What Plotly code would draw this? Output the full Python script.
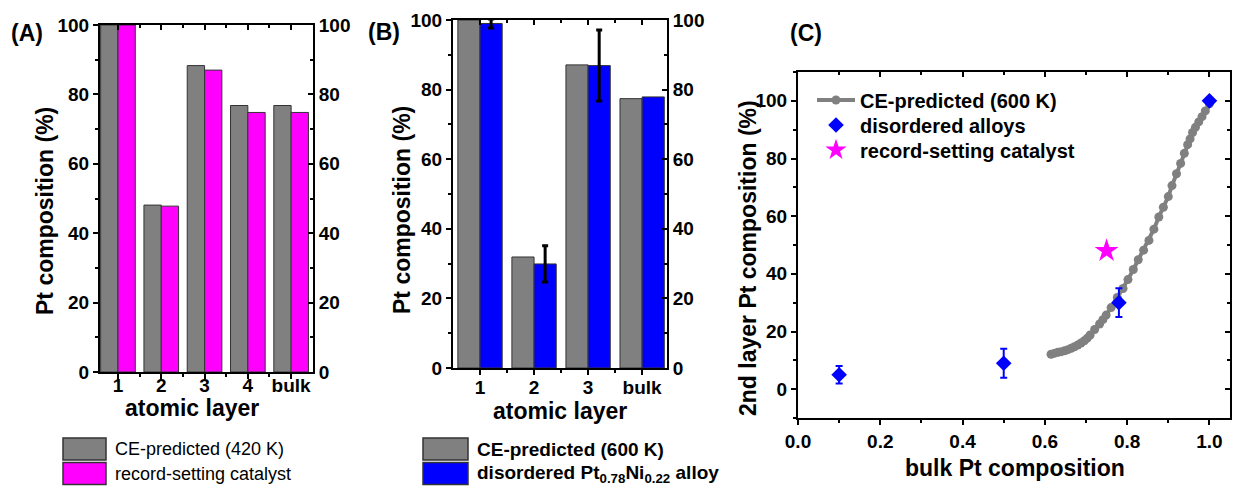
import plotly.graph_objects as go

W, H = 1236, 489

# ---------------- data ----------------
# (A) Pt composition per atomic layer
layers_a = ["1", "2", "3", "4", "bulk"]
ce420 = [100, 48.1, 88.3, 76.8, 76.8]
record = [100, 47.8, 87.0, 74.8, 74.8]

# (B) Pt composition per atomic layer (bulk has no error bar)
layers_b = ["1", "2", "3", "bulk"]
ce600 = [100, 31.9, 87.1, 77.4]
alloy = [99.0, 29.9, 86.9, 77.9]
alloy_err = [1.3, 5.2, 10.2]

# (C) 2nd-layer vs bulk Pt composition
ce_bulk = [0.615, 0.624, 0.632, 0.640, 0.648, 0.656, 0.664, 0.672, 0.680, 0.688,
           0.696, 0.703, 0.710, 0.721, 0.733, 0.741, 0.749, 0.761, 0.776, 0.790,
           0.802, 0.815, 0.827, 0.840, 0.853, 0.865, 0.877, 0.888, 0.900, 0.909,
           0.920, 0.930, 0.939, 0.947, 0.953, 0.959, 0.966, 0.974, 0.982, 0.990,
           1.000]
ce_second = [12.1, 12.5, 12.8, 13.0, 13.3, 13.7, 14.2, 14.7, 15.3, 16.0,
             16.8, 17.7, 18.8, 20.7, 22.6, 24.1, 25.7, 28.3, 31.8, 34.9,
             38.0, 41.5, 44.9, 48.2, 51.6, 55.5, 59.7, 63.1, 66.8, 70.6,
             74.7, 78.3, 81.8, 84.8, 86.8, 89.0, 90.8, 92.7, 94.5, 96.5,
             99.0]
dis_bulk = [0.10, 0.50, 0.78, 1.00]
dis_second = [5, 9, 30, 100]
dis_err = [3, 5, 5]          # the pure-Pt point carries no error bar
rec_bulk = [0.75]
rec_second = [48]

# ---------------- style ----------------
FONT = "Liberation Sans, Arial, sans-serif"
GRAY = "#808080"
MAGENTA = "#FF00FF"
BLUE = "#0000FF"
EDGE = "#333333"
TICKFONT = dict(family=FONT, size=19, color="black", weight="bold")
TITLEFONT = dict(family=FONT, size=23, color="black", weight="bold")
LEGFONT = dict(family=FONT, size=20, color="black", weight="bold")


def px(x):
    return x / W


def py(y):
    return 1 - y / H


def axis_common(**kw):
    d = dict(showline=True, linewidth=2, linecolor="black", showgrid=False,
             zeroline=False, ticklen=5, tickwidth=2, tickcolor="black",
             tickfont=TICKFONT, fixedrange=True, automargin=False)
    d.update(kw)
    return d


def minor(vals=None, dtick=None, inside=False):
    m = dict(ticks="inside" if inside else "outside", ticklen=3, tickwidth=2,
             tickcolor="black", showgrid=False)
    if vals is not None:
        m["tickvals"] = vals
    if dtick is not None:
        m["dtick"] = dtick
        m["tick0"] = 0
    return m


pos_a = list(range(1, len(layers_a) + 1))
pos_b = list(range(1, len(layers_b) + 1))
half_a = [p + 0.5 for p in pos_a[:-1]]
half_b = [p + 0.5 for p in pos_b[:-1]]

fig = go.Figure()

# ---- (A) bars: gray on bottom/left axes, magenta on top/right axes ----
fig.add_trace(go.Bar(x=pos_a, y=ce420, width=0.4, offset=-0.4,
                     marker=dict(color=GRAY, line=dict(color=EDGE, width=1)),
                     showlegend=False, xaxis="x", yaxis="y"))
fig.add_trace(go.Bar(x=pos_a, y=record, width=0.4, offset=0,
                     marker=dict(color=MAGENTA, line=dict(color=EDGE, width=1)),
                     showlegend=False, xaxis="x2", yaxis="y2"))

# ---- (B) bars ----
fig.add_trace(go.Bar(x=pos_b, y=ce600, width=0.41, offset=-0.41,
                     marker=dict(color=GRAY, line=dict(color=EDGE, width=1)),
                     showlegend=False, xaxis="x3", yaxis="y3"))
fig.add_trace(go.Bar(x=pos_b, y=alloy, width=0.41, offset=0,
                     marker=dict(color=BLUE, line=dict(color=EDGE, width=1)),
                     error_y=dict(type="data", array=alloy_err, visible=True,
                                  color="black", thickness=3, width=3),
                     showlegend=False, xaxis="x4", yaxis="y4"))

# ---- (C) scatter ----
fig.add_trace(go.Scatter(x=ce_bulk, y=ce_second, mode="lines+markers",
                         name="CE-predicted (600 K)",
                         line=dict(color=GRAY, width=4),
                         marker=dict(color=GRAY, size=9),
                         xaxis="x5", yaxis="y5", legend="legend"))
fig.add_trace(go.Scatter(x=dis_bulk, y=dis_second, mode="markers",
                         name="disordered alloys",
                         marker=dict(color=BLUE, size=12, symbol="diamond"),
                         error_y=dict(type="data", array=dis_err, visible=True,
                                      color=BLUE, thickness=2, width=3.5),
                         xaxis="x6", yaxis="y6", legend="legend2"))
fig.add_trace(go.Scatter(x=rec_bulk, y=rec_second, mode="markers",
                         name="record-setting catalyst",
                         marker=dict(color=MAGENTA, size=18, symbol="star"),
                         xaxis="x6", yaxis="y6", legend="legend3"))

# ---------------- axes ----------------
rng_a = [0.585, 5.505]
rng_b = [0.5, 4.46]
layout_axes = dict(
    # (A)
    xaxis=axis_common(domain=[px(100), px(313)], anchor="y", range=rng_a,
                      tickmode="array", tickvals=pos_a, ticktext=layers_a,
                      ticks="outside", ticklabelstandoff=-10,
                      minor=minor(vals=half_a)),
    xaxis2=axis_common(overlaying="x", side="top", anchor="y2", range=rng_a,
                       tickmode="array", tickvals=pos_a, ticks="inside",
                       showticklabels=False, minor=minor(vals=half_a, inside=True)),
    yaxis=axis_common(domain=[py(372), py(25)], anchor="x", range=[0, 100],
                      dtick=20, ticks="outside", minor=minor(dtick=10)),
    yaxis2=axis_common(overlaying="y", side="right", anchor="x2", range=[0, 100],
                       dtick=20, ticks="inside", minor=minor(dtick=10, inside=True)),
    # (B)
    xaxis3=axis_common(domain=[px(453), px(667)], anchor="y3", range=rng_b,
                       tickmode="array", tickvals=pos_b, ticktext=layers_b,
                       ticks="outside", ticklabelstandoff=-4,
                       minor=minor(vals=half_b)),
    xaxis4=axis_common(overlaying="x3", side="top", anchor="y4", range=rng_b,
                       tickmode="array", tickvals=pos_b, ticks="inside",
                       showticklabels=False, minor=minor(vals=half_b, inside=True)),
    yaxis3=axis_common(domain=[py(368), py(20)], anchor="x3", range=[0, 100],
                       dtick=20, ticks="outside", minor=minor(dtick=10)),
    yaxis4=axis_common(overlaying="y3", side="right", anchor="x4", range=[0, 100],
                       dtick=20, ticks="inside", minor=minor(dtick=10, inside=True)),
    # (C)
    xaxis5=axis_common(domain=[px(798), px(1230)], anchor="y5", range=[0, 1.05],
                       dtick=0.2, tick0=0, tickformat=".1f", ticks="outside",
                       minor=minor(dtick=0.1)),
    xaxis6=axis_common(overlaying="x5", side="top", anchor="y6", range=[0, 1.05],
                       dtick=0.2, tick0=0, ticks="inside", showticklabels=False,
                       minor=minor(dtick=0.1, inside=True)),
    yaxis5=axis_common(domain=[py(418), py(72)], anchor="x5", range=[-10, 110],
                       dtick=20, tick0=0, ticks="outside", minor=minor(dtick=10)),
    yaxis6=axis_common(overlaying="y5", side="right", anchor="x6", range=[-10, 110],
                       dtick=20, tick0=0, ticks="inside", showticklabels=False,
                       minor=minor(dtick=10, inside=True)),
)

# ---------------- text ----------------
annotations = []


def text(x, y, s, font=TITLEFONT, angle=0, xanchor="center", yanchor="middle"):
    annotations.append(dict(x=px(x), y=py(y), xref="paper", yref="paper", text=s,
                            showarrow=False, font=font, textangle=angle,
                            xanchor=xanchor, yanchor=yanchor))


text(27, 33, "(A)")
text(384, 32, "(B)")
text(806, 33, "(C)")
text(45, 211, "Pt composition (%)", angle=-90)
text(402, 210, "Pt composition (%)", angle=-90)
text(748, 258, "2nd layer Pt composition (%)", angle=-90)
text(192, 408, "atomic layer")
text(560, 411, "atomic layer")
text(1015, 468, "bulk Pt composition")

# swatch legends under the bar panels
shapes = []
LEGFONT_A = dict(family=FONT, size=18, color="black")
LEGFONT_B = dict(family=FONT, size=19, color="black", weight="bold")
legend_rows = [
    (63, 106, 113, [(GRAY, "CE-predicted (420 K)"), (MAGENTA, "record-setting catalyst")], LEGFONT_A),
    (423, 468, 475, [(GRAY, "CE-predicted (600 K)"),
                     (BLUE, "disordered Pt<sub>0.78</sub>Ni<sub>0.22</sub> alloy")], LEGFONT_B),
]
for x0, x1, tx, items, lf in legend_rows:
    for i, (col, label) in enumerate(items):
        yc = 449 + 24.5 * i
        shapes.append(dict(type="rect", xref="paper", yref="paper",
                           x0=px(x0), x1=px(x1), y0=py(yc - 11), y1=py(yc + 11),
                           fillcolor=col, line=dict(color=EDGE, width=1.5)))
        text(tx, yc, label, font=lf, xanchor="left")

# in-plot legend of (C): one row per legend box
legend_boxes = {}
for i, name in enumerate(["legend", "legend2", "legend3"]):
    legend_boxes[name] = dict(x=px(812), y=py(100 + 25 * i), xanchor="left",
                              yanchor="middle", bgcolor="rgba(0,0,0,0)",
                              font=LEGFONT, itemwidth=38, borderwidth=0)

fig.update_layout(
    template="none",
    width=W, height=H, autosize=False,
    margin=dict(l=0, r=0, t=0, b=0, pad=0),
    paper_bgcolor="white", plot_bgcolor="white",
    font=dict(family=FONT, color="black"),
    barmode="overlay",
    annotations=annotations, shapes=shapes,
    showlegend=True,
    **legend_boxes,
    **layout_axes,
)

fig.write_html("out.html")
